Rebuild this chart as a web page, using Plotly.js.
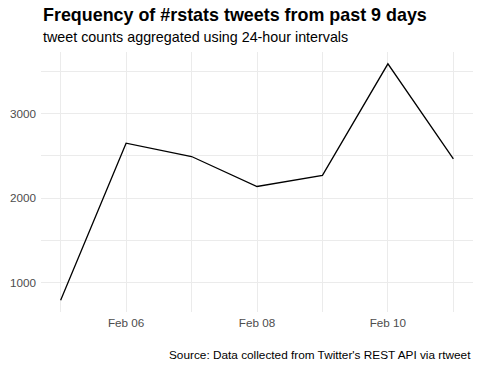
<!DOCTYPE html>
<html>
<head>
<meta charset="utf-8">
<script src="https://cdn.plot.ly/plotly-3.0.1.min.js"></script>
<style>html,body{margin:0;padding:0;background:#fff;}#chart{width:480px;height:367px;}</style>
</head>
<body>
<div id="chart"></div>
<script>
const dates = ["2018-02-05","2018-02-06","2018-02-07","2018-02-08","2018-02-09","2018-02-10","2018-02-11"];
const counts = [790, 2651, 2493, 2138, 2269, 3592, 2466];
const xTickVals = ["2018-02-05","2018-02-06","2018-02-07","2018-02-08","2018-02-09","2018-02-10","2018-02-11"];
const xTickText = ["","Feb 06","","Feb 08","","Feb 10",""];
const yTickVals = [1000, 1500, 2000, 2500, 3000, 3500];
const yTickText = ["1000","","2000","","3000",""];

const font = "Liberation Sans, Arial, sans-serif";
const trace = {
  x: dates, y: counts, type: "scatter", mode: "lines",
  line: {color: "#000000", width: 1.3}, hoverinfo: "skip"
};
const layout = {
  width: 480, height: 367,
  margin: {l: 41, r: 7, t: 52, b: 55},
  paper_bgcolor: "#ffffff", plot_bgcolor: "#ffffff",
  showlegend: false,
  font: {family: font, color: "#4D4D4D"},
  xaxis: {
    type: "date",
    range: ["2018-02-04 16:48", "2018-02-11 07:12"],
    tickvals: xTickVals, ticktext: xTickText,
    tickfont: {size: 11.7, color: "#4D4D4D", family: font},
    ticklabelstandoff: 2,
    showgrid: true, gridcolor: "#EBEBEB", gridwidth: 1,
    zeroline: false, showline: false, ticks: "", ticklen: 0
  },
  yaxis: {
    range: [650, 3732],
    tickvals: yTickVals, ticktext: yTickText,
    tickfont: {size: 11.7, color: "#4D4D4D", family: font},
    ticklabelstandoff: 4,
    showgrid: true, gridcolor: "#EBEBEB", gridwidth: 1,
    zeroline: false, showline: false, ticks: "", ticklen: 0
  },
  annotations: [
    {text: "<b>Frequency of #rstats tweets from past 9 days</b>", xref: "paper", yref: "paper",
     x: 0, y: 1.144, xanchor: "left", yanchor: "middle", showarrow: false,
     font: {size: 17.9, color: "#000000", family: font}},
    {text: "tweet counts aggregated using 24-hour intervals", xref: "paper", yref: "paper",
     x: 0, y: 1.0577, xanchor: "left", yanchor: "middle", showarrow: false,
     font: {size: 14.3, color: "#000000", family: font}},
    {text: "Source: Data collected from Twitter's REST API via rtweet", xref: "paper", yref: "paper",
     x: 1, y: -0.165, xanchor: "right", yanchor: "middle", showarrow: false,
     font: {size: 11.8, color: "#000000", family: font}}
  ]
};
Plotly.newPlot("chart", [trace], layout, {staticPlot: true, displayModeBar: false});
</script>
</body>
</html>
